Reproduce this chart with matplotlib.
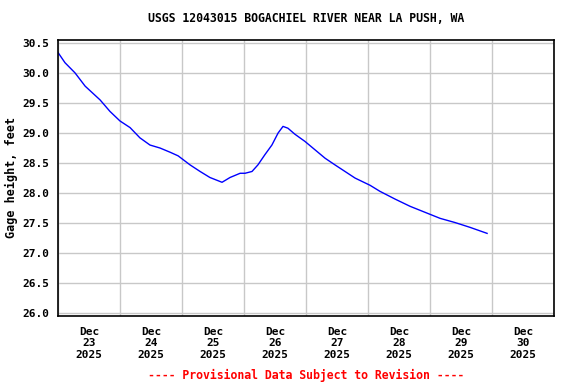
import numpy as np
import pandas as pd
import matplotlib
matplotlib.use("Agg")
import matplotlib.pyplot as plt
import matplotlib.dates as mdates

plt.rcParams["font.family"] = ["DejaVu Sans Mono"]
plt.rcParams["font.weight"] = "bold"
plt.rcParams["axes.labelweight"] = "bold"

# hours since 2025-12-23 00:00 and gage height (ft)
hours = [0, 2.7, 6.6, 10.5, 16.3, 20.1, 24.0, 27.9, 31.7, 35.6, 39.5, 43.4, 46.5,
         51.1, 55.0, 58.8, 63.5, 66.6, 70.5, 72.4, 75.1, 77.4, 80.1, 82.8, 85.2,
         87.1, 89.0, 91.7, 95.6, 99.5, 103.4, 107.2, 111.1, 115.0, 120.8, 124.6,
         130.5, 136.3, 142.1, 147.9, 153.7, 159.5, 166.1]
gage = [30.34, 30.17, 30.00, 29.78, 29.55, 29.36, 29.20, 29.09, 28.92, 28.80,
        28.75, 28.68, 28.62, 28.47, 28.36, 28.26, 28.18, 28.26, 28.33, 28.33,
        28.36, 28.47, 28.64, 28.80, 29.00, 29.11, 29.08, 28.98, 28.86, 28.72,
        28.58, 28.47, 28.36, 28.25, 28.13, 28.03, 27.90, 27.78, 27.68, 27.58,
        27.51, 27.43, 27.33]
yticks = [26.0, 26.5, 27.0, 27.5, 28.0, 28.5, 29.0, 29.5, 30.0, 30.5]

start = pd.Timestamp("2025-12-23 00:00")
times = start + pd.to_timedelta(hours, unit="h")

fig = plt.figure(figsize=(5.76, 3.84), dpi=100)
ax = fig.add_axes([58 / 576, 68 / 384, 496 / 576, 276.5 / 384])

ax.plot(times, gage, color="#0000ff", lw=1.0)

ax.set_xlim(start, start + pd.Timedelta(days=8))
ax.set_ylim(25.955, 30.556)

# grid at midnight, labels at noon
ax.xaxis.set_minor_locator(mdates.DayLocator())
ax.xaxis.set_major_locator(mdates.HourLocator(byhour=[12]))
ax.xaxis.set_major_formatter(mdates.DateFormatter("%b\n%d\n%Y"))
ax.grid(which="minor", axis="x", color="#c8c8c8", lw=1)
ax.set_yticks(yticks)
ax.set_yticklabels([f"{v:.1f}" for v in yticks])
ax.grid(axis="y", color="#c8c8c8", lw=1)
ax.set_axisbelow(True)
ax.tick_params(which="both", length=0)
ax.tick_params(axis="x", pad=8, labelsize=8)
ax.tick_params(axis="y", pad=6, labelsize=8)
for lbl in ax.get_xticklabels():
    lbl.set_linespacing(1.15)

for s in ax.spines.values():
    s.set_linewidth(1.2)

ax.set_ylabel("Gage height, feet", fontsize=8.5, labelpad=3)
fig.text(306 / 576, 1 - 19 / 384, "USGS 12043015 BOGACHIEL RIVER NEAR LA PUSH, WA",
         ha="center", va="center", fontsize=8.3, weight="bold")
fig.text(306 / 576, 1 - 375 / 384, "---- Provisional Data Subject to Revision ----",
         ha="center", va="center", fontsize=8.3, color="red", weight="bold")

fig.savefig("out.png", dpi=100)
